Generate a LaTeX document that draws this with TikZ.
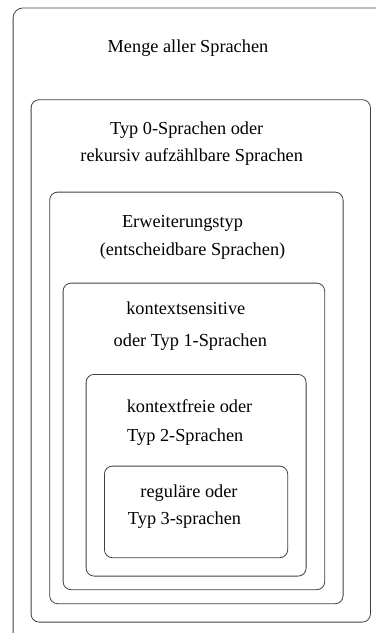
\documentclass[tikz,border=0pt]{standalone}
\usepackage{fontspec}
\setmainfont{Liberation Serif}
\begin{document}
\begin{tikzpicture}[x=1pt,y=-1pt,
  box/.style={draw=black!75, line width=0.8pt, rounded corners=8pt, anchor=north west, inner sep=0pt},
  lbl/.style={font=\fontsize{18.3}{22}\selectfont, inner sep=0pt, text=black}]
\useasboundingbox (0,0) rectangle (376,633);
\clip (0,0) rectangle (376,633);
\node[box, rounded corners=10pt, minimum width=420pt, minimum height=700pt] (b1) at (12.7,7.5) {};
\node[box, minimum width=339.3pt, minimum height=522.4pt] (b2) at (30.7,99.3) {};
\node[box, minimum width=293.4pt, minimum height=411.6pt] (b3) at (49.3,191.7) {};
\node[box, minimum width=261.6pt, minimum height=306.6pt] (b4) at (62.7,282.7) {};
\node[box, minimum width=220pt, minimum height=201.7pt] (b5) at (85.7,374) {};
\node[box, minimum width=183.3pt, minimum height=91.6pt] (b6) at (104,465.7) {};
\node[lbl] (t1) at (188,48) {Menge aller Sprachen};
\node[lbl] (t2a) at (186.7,130) {Typ 0-Sprachen oder};
\node[lbl] (t2b) at (191.7,157) {rekursiv aufzählbare Sprachen};
\node[lbl] (t3a) at (182.5,223) {Erweiterungstyp};
\node[lbl] (t3b) at (192.5,250.7) {(entscheidbare Sprachen)};
\node[lbl] (t4a) at (185.8,308) {kontextsensitive};
\node[lbl] (t4b) at (190.3,341.7) {oder Typ 1-Sprachen};
\node[lbl] (t5a) at (189.5,406) {kontextfreie oder};
\node[lbl] (t5b) at (185.3,437.3) {Typ 2-Sprachen};
\node[lbl] (t6a) at (189,493) {reguläre oder};
\node[lbl] (t6b) at (184.5,520) {Typ 3-sprachen};
\end{tikzpicture}
\end{document}
